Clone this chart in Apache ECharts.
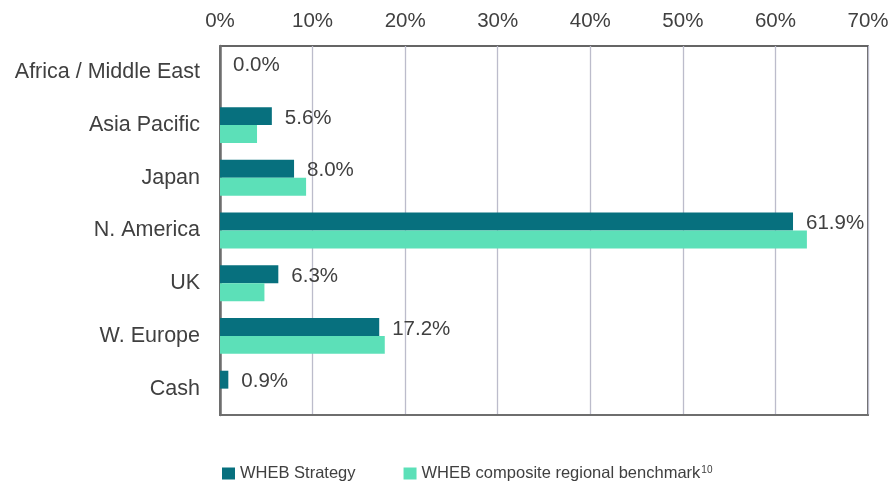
<!DOCTYPE html>
<html>
<head>
<meta charset="utf-8">
<script src="https://cdn.jsdelivr.net/npm/echarts@6/dist/echarts.min.js"></script>
<style>
  html, body { margin: 0; padding: 0; background: #fff; }
  #chart { width: 896px; height: 489px; }
</style>
</head>
<body>
<div id="chart"></div>
<script>
const regions = ["Africa / Middle East", "Asia Pacific", "Japan", "N. America", "UK", "W. Europe", "Cash"];
const strategy = [0.0, 5.6, 8.0, 61.9, 6.3, 17.2, 0.9];
const benchmark = [0.0, 4.0, 9.3, 63.4, 4.8, 17.8, 0.0];
const seriesNames = ["WHEB Strategy", "WHEB composite regional benchmark"];

const textColor = "#404040";
const font = "'Liberation Sans', Arial, sans-serif";

const chart = echarts.init(document.getElementById("chart"));

chart.setOption({
  animation: false,
  textStyle: { fontFamily: font },
  grid: {
    left: 220, right: 28, top: 46, bottom: 74,
    show: true, borderColor: "#333", borderWidth: 1.5
  },
  legend: {
    bottom: 2,
    left: 217,
    itemGap: 48,
    itemWidth: 13,
    itemHeight: 12,
    icon: "rect",
    itemStyle: { borderWidth: 0 },
    // benchmark name carries footnote 10 as a superscript
    formatter: (name) => name === seriesNames[1] ? "{t|" + name + "}{s|10}" : "{t|" + name + "}",
    textStyle: {
      color: textColor, fontSize: 16.5, fontFamily: font,
      rich: {
        t: { color: textColor, fontSize: 16.5, fontFamily: font },
        s: { color: textColor, fontSize: 10, fontFamily: font, verticalAlign: "top", padding: [0, 0, 6, 1] }
      }
    },
    data: seriesNames
  },
  xAxis: [
    {
      type: "value",
      position: "top",
      min: 0, max: 70, interval: 10,
      axisLabel: {
        color: textColor, fontSize: 20.5, fontFamily: font, margin: 14,
        formatter: (v) => v + "%"
      },
      axisLine: { show: false },
      axisTick: { show: false },
      splitLine: { lineStyle: { color: "#bcbccb", width: 1.3 } }
    },
    {
      type: "value",
      position: "bottom",
      min: 0, max: 70,
      axisLabel: { show: false },
      axisTick: { show: false },
      splitLine: { show: false },
      axisLine: { show: true, lineStyle: { color: "#6e6e6e", width: 2 } }
    }
  ],
  yAxis: {
    type: "category",
    inverse: true,
    data: regions,
    axisLine: { show: true, lineStyle: { color: "#6e6e6e", width: 2.5 } },
    axisTick: { show: false },
    axisLabel: { color: textColor, fontSize: 21.5, fontFamily: font, margin: 20 }
  },
  series: [
    {
      name: seriesNames[0],
      type: "bar",
      xAxisIndex: 0,
      data: strategy,
      barGap: "0%",
      barCategoryGap: "32%",
      itemStyle: { color: "#07707e" },
      label: {
        show: true,
        position: "right",
        distance: 13,
        offset: [0, 2],
        color: textColor,
        fontSize: 20.5,
        fontFamily: font,
        formatter: (p) => p.value.toFixed(1) + "%"
      }
    },
    {
      name: seriesNames[1],
      type: "bar",
      xAxisIndex: 0,
      data: benchmark,
      barGap: "0%",
      barCategoryGap: "32%",
      itemStyle: { color: "#5ce0b8" }
    }
  ]
});
</script>
</body>
</html>
